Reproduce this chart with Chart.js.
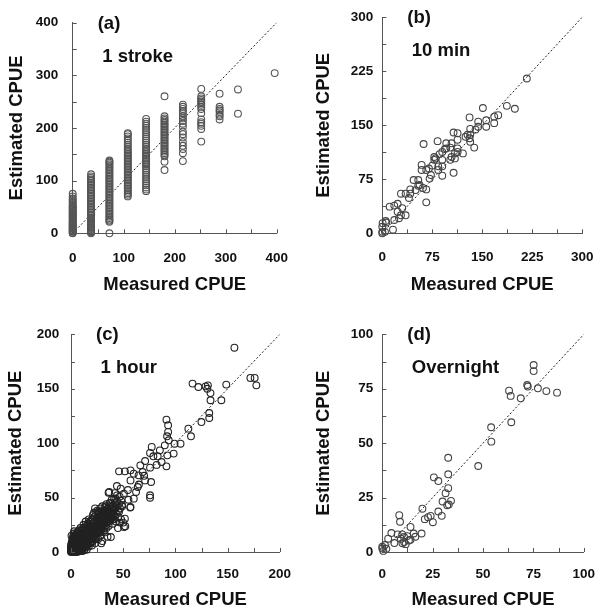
<!DOCTYPE html>
<html>
<head>
<meta charset="utf-8">
<script src="https://cdn.jsdelivr.net/npm/chart.js@4.4.1/dist/chart.umd.min.js"></script>
<style>
    body { margin: 0; background: white; }
    #wrap { position: relative; width: 609px; height: 614px; background: white; }
    #wrap canvas { position: absolute; }
</style>
</head>
<body>
<div id="wrap">
    <canvas id="panel-a" width="305" height="307" style="left:0;top:0"></canvas>
    <canvas id="panel-b" width="304" height="307" style="left:305px;top:0"></canvas>
    <canvas id="panel-c" width="305" height="307" style="left:0;top:307px"></canvas>
    <canvas id="panel-d" width="304" height="307" style="left:305px;top:307px"></canvas>
</div>
<script>
// (a) 1 stroke: measured CPUE comes in steps of 36, estimated values stacked per column
const strokeX = [0, 36, 72, 108, 144, 180, 216, 252, 288, 324, 396];
const strokeY = [
    [0, 1, 3, 4, 6, 7, 9, 10, 12, 14, 15, 17, 19, 20, 22, 24, 26, 28, 30, 32, 34, 36, 38, 40, 42, 44, 46, 48, 50, 52, 54, 57, 60, 63, 66, 70, 75],
    [0, 2, 4, 6, 8, 10, 12, 14, 16, 18, 20, 22, 24, 26, 28, 30, 33, 36, 39, 42, 45, 48, 51, 54, 57, 60, 63, 66, 69, 72, 75, 78, 81, 84, 87, 90, 93, 96, 99, 102, 105, 108, 112],
    [0, 22, 24, 26, 29, 32, 35, 38, 41, 44, 47, 50, 53, 56, 59, 62, 65, 68, 71, 74, 77, 80, 83, 86, 89, 92, 95, 98, 101, 104, 107, 110, 113, 116, 119, 122, 125, 128, 131, 134, 136, 138],
    [70, 73, 76, 79, 82, 85, 88, 91, 94, 97, 100, 103, 106, 109, 112, 115, 118, 121, 124, 127, 130, 133, 136, 139, 142, 145, 148, 151, 154, 157, 160, 164, 168, 172, 176, 180, 184, 188, 190],
    [80, 83, 87, 91, 95, 99, 103, 107, 111, 115, 119, 123, 127, 130, 133, 136, 139, 142, 145, 148, 151, 154, 157, 160, 164, 168, 172, 176, 180, 184, 188, 192, 196, 200, 204, 208, 212, 217],
    [120, 136, 146, 149, 152, 155, 158, 161, 164, 167, 170, 173, 176, 179, 182, 185, 188, 191, 194, 197, 200, 203, 206, 209, 212, 215, 218, 222, 260],
    [137, 152, 160, 166, 173, 182, 188, 193, 202, 208, 213, 218, 222, 228, 232, 236, 240, 244],
    [174, 198, 204, 208, 211, 216, 228, 236, 240, 244, 247, 250, 253, 256, 260, 274],
    [216, 222, 225, 230, 233, 236, 240, 265],
    [227, 273],
    [304]
];

// (b) 10 min  [measured, estimated]
const tenMinPoints = [
    [0, 0], [0, 2], [0, 9], [0.5, 14], [4, 2], [5, 17], [6, 15], [16, 5], [11, 37], [18, 38.5],
    [23, 41], [30, 35], [23, 30], [28, 25], [35, 25], [25, 21], [18, 18.5], [35, 55], [28, 55], [40, 49],
    [42, 55], [42, 61], [47, 74], [54, 74], [54, 66], [56, 67], [61, 63], [66, 61], [66, 43], [59, 95],
    [59, 88], [66, 88], [73, 81], [71, 76], [75, 94], [78, 106], [78, 102], [84, 93], [84, 88], [90, 93],
    [90, 80], [90, 102], [83, 128], [62, 124], [96, 125], [96, 118], [94, 117], [90, 113], [102, 119], [104, 106],
    [102, 102], [109, 104], [107, 84], [107, 140], [113, 139], [113, 130], [104, 125], [113, 118], [113, 113], [109, 111],
    [121, 111], [125, 134], [128, 137], [131, 132], [132, 137], [132, 145], [132, 127], [138, 119], [140, 144], [131, 161],
    [144, 148], [144, 155], [156, 148], [156, 157], [168, 153], [168, 162], [174, 164], [151, 174], [187, 177], [199, 173],
    [217, 215], [80, 104], [86, 110], [70, 90], [50, 60]
];

// (c) 1 hour  [measured, estimated]
const oneHourPoints = [
    // dense cluster near the origin
    [0, 0], [0.5, 1], [1, 0.5], [1, 2], [1.5, 3], [2, 1], [2, 4], [2.5, 2], [3, 0.5], [3, 3], [3, 6], [3.5, 5],
    [4, 2], [4, 4], [4, 8], [4.5, 1], [5, 3], [5, 5], [5, 7], [0, 3], [0, 6], [0.5, 8], [1, 5], [1, 10],
    [2, 7], [2, 14], [3, 19], [4, 12], [5, 10], [5, 1], [0, 1], [1, 1], [2, 2], [3, 2], [0.5, 4], [1.5, 7],
    [0, 2], [0, 4], [1, 3], [1, 7], [2, 0], [2, 5], [2, 10], [3, 1], [3, 4], [3, 8], [4, 0], [4, 6],
    [4, 10], [5, 2], [5, 4], [5, 8], [1.5, 12], [0.5, 15], [2.5, 17], [4, 14], [3, 13], [2, 12],
    [6, 2], [6, 6], [6, 9], [6, 14], [6.5, 4], [7, 7], [7, 11], [7, 3], [7.5, 9], [8, 5], [8, 8], [8, 12],
    [8, 17], [8.5, 2], [9, 6], [9, 10], [9, 14], [9.5, 8], [10, 4], [10, 9], [10, 12], [10, 16], [10, 20], [6, 18],
    [9, 22], [7, 16], [8, 1], [10, 1], [6, 11], [7, 5], [9, 3], [5, 13], [3, 10], [4, 16],
    [6, 0], [6, 4], [6, 7], [7, 1], [7, 9], [7, 13], [8, 3], [8, 6], [8, 10], [8, 14], [9, 1], [9, 8],
    [9, 12], [9, 17], [10, 2], [10, 6], [10, 10], [10, 14], [7, 19], [8, 20], [6, 16],
    [11, 7], [11, 11], [11, 15], [11, 3], [11.5, 18], [12, 9], [12, 13], [12, 6], [12, 22], [12.5, 16], [13, 11], [13, 14],
    [13, 19], [13, 4], [13.5, 8], [14, 12], [14, 17], [14, 24], [14.5, 10], [15, 14], [15, 7], [15, 19], [15, 2], [12, 25],
    [11, 5], [11, 9], [11, 13], [11, 20], [12, 4], [12, 11], [12, 15], [13, 7], [13, 10], [13, 16], [14, 5], [14, 9],
    [14, 14], [14, 20], [15, 11], [15, 16], [15, 22], [11, 1], [13, 2], [15, 5],
    [16, 12], [16, 16], [16, 21], [16, 9], [16.5, 26], [17, 14], [17, 18], [17, 5], [17.5, 23], [18, 11], [18, 16], [18, 20],
    [18, 28], [18.5, 8], [19, 14], [19, 18], [19, 24], [20, 12], [20, 17], [20, 22], [20, 30], [20, 6], [17, 30], [14, 28],
    [16, 7], [16, 14], [16, 18], [17, 10], [17, 16], [17, 21], [18, 13], [18, 18], [18, 24], [19, 10], [19, 16], [19, 21],
    [20, 9], [20, 15], [20, 19], [20, 26], [19, 28], [16, 24],
    [21, 15], [21, 19], [21, 26], [21, 10], [22, 18], [22, 23], [22, 32], [22, 13], [23, 16], [23, 21], [23, 27], [23, 8],
    [24, 19], [24, 25], [24, 35], [24, 14], [25, 22], [25, 28], [25, 17], [25, 38], [23, 40], [21, 34],
    [21, 17], [21, 22], [22, 15], [22, 20], [22, 27], [23, 12], [23, 19], [23, 24], [24, 17], [24, 22], [24, 30], [25, 20],
    [25, 25], [25, 32], [21, 30], [22, 36],
    [26, 20], [26, 26], [26, 32], [26, 12], [27, 24], [27, 30], [27, 36], [27, 18], [28, 22], [28, 28], [28, 40], [28, 15],
    [29, 26], [29, 33], [29, 20], [30, 24], [30, 30], [30, 37], [30, 10], [30, 42], [29, 8],
    [26, 23], [26, 29], [27, 21], [27, 27], [27, 33], [28, 25], [28, 31], [28, 35], [29, 23], [29, 29], [29, 37], [30, 27],
    [30, 33], [26, 37], [28, 19],
    [31, 28], [31, 34], [31, 20], [32, 26], [32, 31], [32, 38], [32, 18], [33, 29], [33, 35], [33, 42], [33, 24], [34, 31],
    [34, 37], [34, 22], [35, 28], [35, 34], [35, 40], [35, 14], [34, 44],
    [31, 31], [31, 38], [32, 23], [32, 34], [33, 32], [33, 38], [34, 27], [34, 34], [35, 31], [35, 37], [31, 25], [32, 41],
    [36, 32], [36, 38], [36, 24], [37, 35], [37, 42], [37, 28], [38, 30], [38, 36], [38, 44], [39, 33], [39, 40], [40, 26],
    [40, 35], [40, 42], [41, 38], [41, 30], [42, 40], [42, 45], [42, 33], [43, 36], [43, 28], [44, 42], [44, 47], [45, 38],
    [45, 32], [45, 22], [46, 44], [47, 40], [48, 30], [48, 47], [49, 42], [44, 52], [42, 54], [39, 48],
    [36, 35], [37, 31], [38, 40], [39, 36], [40, 38], [41, 34], [43, 41], [46, 37], [47, 27], [50, 27], [37, 45], [40, 30],
    // spread along the 1:1 line
    [36, 54.5], [44, 60.6], [46.6, 50.8], [54.5, 56.9], [42.6, 49.3], [48.8, 43.2], [56.7, 40.8], [52, 23.7],
    [38.2, 13.8], [50.7, 23], [51.6, 30.6], [57, 41.3], [60.1, 49], [62.3, 55.1], [63.9, 59.7], [47.6, 58.2], [50.7, 53.6],
    [36.6, 55.1], [41.3, 49], [71, 65.8], [57, 65.8], [64.7, 70.4], [60.1, 72], [51.6, 74.1], [46, 74.1], [57, 75],
    [76.7, 64.3], [75.7, 52.1], [75.7, 49.9], [68.6, 73.5], [75.7, 77.5], [66.4, 79.6], [71, 83.6], [83, 87.9], [78.9, 87.9],
    [77.3, 96.5], [75.7, 91], [91.4, 78.7], [86.7, 82.7], [85.1, 93.4], [89.8, 98], [92.3, 88.8], [98.3, 90.4], [99.2, 99.5],
    [93.6, 102.6], [92, 106.3], [93, 110.3], [93, 116.4], [91.4, 121.6], [104.9, 99.5], [112.4, 113.3], [114.9, 106.3],
    [124.9, 119.4], [132.4, 123.1], [132.4, 127.7], [177.5, 153.1], [175.9, 159.9], [171.8, 159.9], [148.7, 153.8],
    [144, 139.4], [133.6, 139.4], [133.6, 146], [130.5, 150], [131.1, 153.1], [128.9, 152.2], [122, 151.6], [116.4, 154.7],
    [156.5, 187.7], [82, 80], [70, 70], [65, 62], [55, 48]
];

// (d) Overnight  [measured, estimated]
const overnightPoints = [
    [75.1, 85.9], [75.1, 83.1], [71.9, 76.7], [72.2, 76], [77.2, 75.2], [81.4, 73.9], [86.7, 73.2], [62.9, 74.1],
    [63.7, 71.7], [68.7, 70.6], [64, 59.6], [54, 57.3], [54.1, 50.7], [47.6, 39.5], [32.7, 43.3], [32.7, 35.7],
    [25.6, 34.3], [27.8, 32.6], [32.7, 29.3], [31.4, 27], [34.1, 23.5], [29.9, 23.2], [32.2, 21.5], [33, 21.8],
    [27.8, 18.6], [29.5, 16.6], [24, 16.6], [22.7, 16], [21.1, 15.1], [25.1, 13.7], [19.9, 19.9], [8.4, 16.9],
    [8.8, 13.9], [14, 11.5], [19.5, 8.5], [15.6, 8.5], [16.4, 7], [4.5, 8.7], [7.6, 8.1], [9.9, 8.1],
    [10.8, 6.9], [12.4, 7.3], [14, 5.6], [9.2, 6.1], [10.8, 4.6], [11.6, 3.6], [2.9, 6.1], [6, 4.1],
    [1.3, 3.2], [0, 2.4], [0, 1.6], [13.2, 5.3], [10, 4], [0.5, 0.5], [2, 1.5]
];

const axisFont = { family: '"Liberation Sans", Arial, sans-serif', size: 13.5, weight: 'bold' };
const titleFont = { family: '"Liberation Sans", Arial, sans-serif', size: 18.5, weight: 'bold' };

// inward tick marks + panel letter and gear label
const panelDecor = {
    id: 'panelDecor',
    afterDraw(chart, args, opts) {
        const { ctx, chartArea: a, scales: { x, y } } = chart;
        ctx.save();
        ctx.strokeStyle = '#555';
        ctx.lineWidth = 1;
        ctx.beginPath();
        x.ticks.forEach(t => {
            const px = Math.round(x.getPixelForValue(t.value)) + 0.5;
            ctx.moveTo(px, a.bottom);
            ctx.lineTo(px, a.bottom - 4);
        });
        y.ticks.forEach(t => {
            const py = Math.round(y.getPixelForValue(t.value)) + 0.5;
            ctx.moveTo(a.left, py);
            ctx.lineTo(a.left + 4, py);
        });
        ctx.stroke();

        ctx.fillStyle = '#111';
        ctx.font = 'bold 18.5px "Liberation Sans", Arial, sans-serif';
        ctx.textBaseline = 'middle';
        ctx.fillText(opts.tag, a.left + 25, a.top + 1);
        ctx.fillText(opts.name, a.left + 29.5, a.top + 34);
        ctx.restore();
    }
};

function drawPanel(canvasId, points, cfg) {
    const ctx = document.getElementById(canvasId);
    const w = ctx.width, h = ctx.height;

    new Chart(ctx, {
        type: 'scatter',
        data: {
            datasets: [
                {
                    data: points.map(p => ({ x: p[0], y: p[1] })),
                    pointStyle: 'circle',
                    pointRadius: 3.4,
                    borderWidth: 1.1,
                    borderColor: cfg.color,
                    backgroundColor: 'rgba(0,0,0,0)',
                    clip: false
                },
                {
                    type: 'line',
                    data: [{ x: 0, y: 0 }, { x: cfg.max, y: cfg.max }],
                    borderColor: '#222',
                    borderWidth: 1,
                    borderDash: [2, 2],
                    pointRadius: 0,
                    fill: false
                }
            ]
        },
        options: {
            responsive: false,
            animation: false,
            layout: { padding: { left: 0, top: cfg.T, right: w - cfg.R, bottom: 0 } },
            plugins: {
                legend: { display: false },
                tooltip: { enabled: false },
                panelDecor: { tag: cfg.tag, name: cfg.name }
            },
            scales: {
                x: {
                    type: 'linear', min: 0, max: cfg.max,
                    ticks: {
                        stepSize: cfg.step, padding: cfg.xPad, font: axisFont, color: '#111',
                        autoSkip: false, maxRotation: 0,
                        callback: v => (v % cfg.label === 0 ? v : '')
                    },
                    grid: { display: false, drawTicks: false },
                    border: { display: true, color: '#555', width: 1 },
                    title: { display: true, text: 'Measured CPUE', font: titleFont, color: '#111', padding: { top: 0, bottom: cfg.xTitlePad } },
                    afterFit: s => { s.height = h - cfg.B; }
                },
                y: {
                    type: 'linear', min: 0, max: cfg.max,
                    ticks: {
                        stepSize: cfg.step, padding: cfg.yPad, font: axisFont, color: '#111',
                        autoSkip: false,
                        callback: v => (v % cfg.label === 0 ? v : '')
                    },
                    grid: { display: false, drawTicks: false },
                    border: { display: true, color: '#555', width: 1 },
                    title: { display: true, text: 'Estimated CPUE', font: titleFont, color: '#111', padding: { top: cfg.yTitlePad, bottom: 0 } },
                    afterFit: s => { s.width = cfg.L; }
                }
            }
        },
        plugins: [panelDecor]
    });
}

const strokePoints = [];
strokeX.forEach((x, i) => strokeY[i].forEach(y => strokePoints.push([x, y])));

drawPanel('panel-a', strokePoints, { L: 72.7, R: 284, T: 17.3, B: 233.3, max: 400, step: 50, label: 100, yPad: 14.4, xPad: 17, yTitlePad: 5.9, xTitlePad: 11.2, color: '#555', tag: '(a)', name: '1 stroke' });
drawPanel('panel-b', tenMinPoints, { L: 77.3, R: 287.3, T: 17.3, B: 233.3, max: 300, step: 37.5, label: 75, yPad: 9, xPad: 15.6, yTitlePad: 8.2, xTitlePad: 11.2, color: '#444', tag: '(b)', name: '10 min' });
drawPanel('panel-c', oneHourPoints, { L: 71, R: 284, T: 27.3, B: 245, max: 200, step: 25, label: 50, yPad: 11.7, xPad: 13.9, yTitlePad: 4.9, xTitlePad: 2.9, color: '#222', tag: '(c)', name: '1 hour' });
drawPanel('panel-d', overnightPoints, { L: 77.3, R: 287.3, T: 27.3, B: 245, max: 100, step: 12.5, label: 25, yPad: 9, xPad: 13.9, yTitlePad: 8.2, xTitlePad: 2.9, color: '#444', tag: '(d)', name: 'Overnight' });
</script>
</body>
</html>
